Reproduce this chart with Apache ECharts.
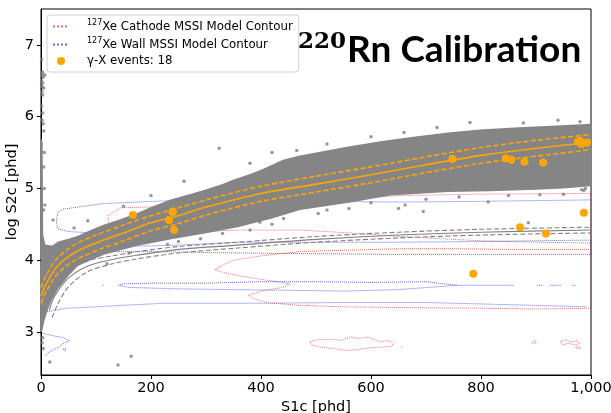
<!DOCTYPE html>
<html><head><meta charset="utf-8">
<script src="https://cdn.jsdelivr.net/npm/echarts@6/dist/echarts.min.js"></script>
<style>html,body{margin:0;padding:0;background:#fff}#c{width:611px;height:413px}</style>
</head><body><div id="c"></div><script>
// ---- data ----
var xTicks = [0, 200, 400, 600, 800, 1000];
var yTicks = [3, 4, 5, 6, 7];

// gamma-X events (S1c, log S2c)
var events = [[167,4.63],[239,4.67],[233,4.56],[242,4.42],[748,5.41],[845,5.42],[855,5.40],[879,5.37],[913,5.36],
  [976,5.65],[983,5.62],[993,5.64],[980,5.66],[987,4.66],[871,4.46],[918,4.37],[786,3.81],[240,4.68]];

// orange fitted band (mean, +/-)
var bandMean = [[0,3.50],[10,3.68],[30,3.92],[60,4.10],[100,4.24],[150,4.38],[200,4.52],[250,4.62],[300,4.74],[400,4.93],[500,5.06],[600,5.19],[700,5.33],[800,5.46],[900,5.56],[1000,5.64]];
var bandUp   = [[0,3.62],[10,3.80],[30,4.03],[60,4.21],[100,4.35],[150,4.49],[200,4.62],[250,4.73],[300,4.84],[400,5.03],[500,5.17],[600,5.30],[700,5.44],[800,5.57],[900,5.67],[1000,5.75]];
var bandLow  = [[0,3.40],[10,3.57],[30,3.81],[60,3.99],[100,4.13],[150,4.27],[200,4.41],[250,4.51],[300,4.63],[400,4.82],[500,4.95],[600,5.08],[700,5.22],[800,5.35],[900,5.45],[1000,5.54]];

// gray lower model band
var grayMid = [[15,3.30],[25,3.50],[50,3.75],[85,3.92],[130,4.01],[176,4.07],[250,4.15],[358,4.21],[500,4.29],[650,4.35],[800,4.39],[1000,4.42]];
var grayUp  = [[15,3.45],[25,3.62],[50,3.85],[85,3.99],[130,4.06],[176,4.12],[250,4.19],[358,4.25],[500,4.33],[650,4.39],[800,4.43],[1000,4.46]];
var grayLow = [[20,3.20],[30,3.38],[50,3.63],[85,3.84],[130,3.95],[176,4.02],[250,4.10],[358,4.17],[500,4.25],[650,4.31],[800,4.35],[1000,4.38]];

// dense Rn-220 event cloud outline
var cloudUpper = [[0,5.7],[3,5.65],[4,4.35],[8,4.22],[20,4.2],[31,4.26],[50,4.3],[67,4.34],[90,4.42],[116,4.5],[140,4.56],[176,4.66],[200,4.74],[237,4.85],[270,4.92],[298,4.98],[330,5.06],[349,5.12],[380,5.2],[400,5.26],[440,5.4],[470,5.46],[500,5.5],[556,5.58],[620,5.66],[677,5.72],[740,5.78],[798,5.82],[860,5.85],[919,5.87],[1000,5.9]];
var cloudLower = [[1000,5.03],[950,5.0],[900,4.98],[816,4.96],[740,4.95],[635,4.9],[560,4.8],[471,4.7],[420,4.58],[358,4.46],[298,4.37],[237,4.29],[176,4.2],[116,4.08],[90,4.0],[67,3.92],[50,3.78],[31,3.6],[20,3.45],[12,3.3],[6,3.15],[2,3.0],[0,3.0]];
// scattered Rn-220 events
var cloudPoints = [[1,6.8],[3,6.62],[2,6.58],[4,6.55],[1,6.5],[3,6.47],[2,6.42],[5,6.4],[2,6.35],[3,6.3],[1,6.15],[3,6.05],[2,5.95],[4,5.9],[7,6.58],[5,5.8],[6,5.5],[5,5.3],[6,5.0],[5,4.7],
  [3,2.92],[2,2.85],[4,2.77],[16,2.58],[140,2.54],[164,2.66],[324,5.56],[22,4.56],[7,4.77],[695,4.68],[886,4.52],[983,4.98],[987,4.97],
  [398,4.53],[504,4.65],[298,4.42],[347,4.49],[441,4.58],[650,4.72],[662,4.77],[813,4.81],[907,4.91],[60,4.45],[85,4.55],[150,4.75],
  [200,4.9],[260,5.1],[380,5.35],[420,5.5],[465,5.53],[520,5.62],[600,5.72],[660,5.78],[720,5.85],[780,5.92],[877,5.91],[940,5.95],[980,5.93],
  [120,3.95],[160,4.1],[230,4.22],[250,4.26],[290,4.3],[330,4.37],[380,4.42],[420,4.5],[520,4.7],[560,4.72],[600,4.8],[700,4.85],[760,4.88],[850,4.9],[950,4.92],[990,5.0]];

// Xe-127 cathode MSSI contours
var cathode1 = [[122,4.62],[145,4.73],[189,4.74],[300,4.75],[422,4.78],[540,4.85],[653,4.9],[800,4.92],[1000,4.93],[1000,4.24],[900,4.25],[800,4.27],[700,4.31],[653,4.33],[560,4.38],[471,4.42],[400,4.42],[358,4.42],[298,4.4],[240,4.37],[176,4.35],[140,4.42],[128,4.47],[122,4.55],[122,4.62]];
var cathode2 = [[316,3.87],[330,3.93],[350,4.0],[400,4.06],[471,4.12],[560,4.14],[653,4.16],[750,4.16],[850,4.15],[1000,4.15],[1000,3.33],[900,3.32],[800,3.33],[653,3.34],[550,3.35],[470,3.37],[410,3.41],[385,3.47],[377,3.51],[400,3.57],[440,3.62],[453,3.67],[420,3.71],[362,3.78],[330,3.83],[316,3.87]];
var cathode3 = [[2,3.93],[12,4.02],[30,4.05],[45,4.0],[52,3.9],[45,3.78],[30,3.7],[15,3.68],[5,3.75]];
var cathode4 = [[489,2.86],[500,2.89],[525,2.9],[545,2.88],[562,2.93],[580,2.91],[595,2.93],[605,2.9],[615,2.86],[630,2.88],[641,2.85],[638,2.8],[620,2.79],[600,2.78],[580,2.76],[556,2.74],[530,2.77],[505,2.79],[492,2.82],[489,2.86]];
var cathode5 = [[893,2.86],[898,2.88],[901,2.85],[895,2.83],[893,2.86]];
var cathode6 = [[945,2.87],[955,2.89],[965,2.86],[975,2.88],[980,2.84],[970,2.82],[960,2.84],[948,2.82],[945,2.87]];
var cathode7 = [[972,2.79],[978,2.8],[981,2.77],[974,2.77],[972,2.79]];
var cathode8 = [[655,2.79],[658,2.79]];

// Xe-127 wall MSSI contours
var wall1 = [[130,4.35],[90,4.38],[49,4.4],[30,4.44],[28,4.55],[31,4.67],[40,4.71],[67,4.74],[116,4.79],[176,4.81],[237,4.83],[358,4.83],[500,4.82],[650,4.81],[800,4.82],[1000,4.84]];
var wall2 = [[3,4.18],[10,4.2],[60,4.2],[150,4.19],[249,4.21],[358,4.25],[500,4.25],[650,4.25],[800,4.26],[1000,4.28],[1000,4.08],[800,4.08],[650,4.08],[500,4.09],[358,4.1],[200,4.12],[100,4.12],[30,4.13],[3,4.15],[3,4.18]];
var wall3 = [[756,3.65],[700,3.7],[600,3.69],[500,3.7],[400,3.7],[300,3.68],[200,3.68],[150,3.67],[141,3.65],[160,3.62],[250,3.6],[350,3.59],[450,3.58],[550,3.57],[650,3.59],[756,3.65],[860,3.65]];
var wall4 = [[4,3.26],[10,3.28],[46,3.33],[100,3.35],[146,3.37],[225,3.4],[400,3.4],[550,3.41],[700,3.41],[850,3.38],[992,3.35]];
var wall5 = [[3,2.98],[20,2.95],[40,2.92],[52,2.88],[40,2.84],[30,2.78],[15,2.72],[7,2.67]];
var wall6 = [[40,2.76],[45,2.77],[44,2.74],[40,2.76]];
var wallFrag = [[[902,3.65],[912,3.65]],[[925,3.65],[945,3.65]],[[965,3.65],[973,3.65]],[[112,3.65],[115,3.65]]];

// ---- chart ----
var CATH = 'cathode', WALL = 'wall', EVT = 'events';
var labels = {};
labels[CATH] = '{s|127}Xe Cathode MSSI Model Contour';
labels[WALL] = '{s|127}Xe Wall MSSI Model Contour';
labels[EVT] = '\u03b3-X events: 18';

function contour(name, data, color) {
  return {name: name, type: 'line', data: data, symbol: 'none', showSymbol: false, silent: true, z: 1,
    lineStyle: {color: color, width: 1, type: 'dotted', opacity: 0.7}, itemStyle: {color: color}};
}
function curve(data, color, width, dash, z) {
  return {type: 'line', data: data, symbol: 'none', showSymbol: false, silent: true, z: z, smooth: 0.3,
    lineStyle: {color: color, width: width, type: dash ? [5, 2.5] : 'solid'}};
}
var RED = '#e8303a', BLUE = '#2a2ae0';
var series = [];
[cathode1, cathode2, cathode3, cathode4, cathode5, cathode6, cathode7, cathode8].forEach(function (d) { series.push(contour(CATH, d, RED)); });
[wall1, wall2, wall3, wall4, wall5, wall6].concat(wallFrag).forEach(function (d) { series.push(contour(WALL, d, BLUE)); });
series.push({type: 'custom', silent: true, z: 2, data: [[500, 5]],
  renderItem: function (params, api) {
    var pts = cloudUpper.concat(cloudLower).map(function (p) { return api.coord(p); });
    return {type: 'polygon', shape: {points: pts}, style: {fill: '#858585'}};
  }});
series.push({type: 'scatter', data: cloudPoints, symbolSize: 3.5, silent: true, z: 3, itemStyle: {color: '#808080'}});
series.push(curve(grayUp, '#808080', 1.1, true, 4));
series.push(curve(grayMid, '#808080', 1.1, false, 4));
series.push(curve(grayLow, '#808080', 1.1, true, 4));
series.push(curve(bandUp, '#FFA500', 1.6, true, 5));
series.push(curve(bandMean, '#FFA500', 1.6, false, 5));
series.push(curve(bandLow, '#FFA500', 1.6, true, 5));
series.push({name: EVT, type: 'scatter', data: events, symbolSize: 8, z: 6, itemStyle: {color: '#FFA500', opacity: 1}});

var chart = echarts.init(document.getElementById('c'), null, {renderer: 'canvas'});
chart.setOption({
  animation: false,
  backgroundColor: '#fff',
  grid: {left: 41, right: 20, top: 9, bottom: 38, containLabel: false, outerBoundsMode: 'none',
    show: true, borderColor: '#000', borderWidth: 1, backgroundColor: 'transparent'},
  xAxis: {type: 'value', min: 0, max: 1000, interval: 200,
    name: 'S1c [phd]', nameLocation: 'middle', nameGap: 25, nameMoveOverlap: false,
    nameTextStyle: {fontFamily: 'DejaVu Sans', fontSize: 14.5, color: '#000'},
    axisLine: {lineStyle: {color: '#000', width: 1}}, splitLine: {show: false},
    axisTick: {inside: false, length: 4, lineStyle: {color: '#000'}},
    axisLabel: {fontFamily: 'DejaVu Sans', fontSize: 14.5, color: '#000', margin: 6}},
  yAxis: {type: 'value', min: 2.4, max: 7.5,
    name: 'log S2c [phd]', nameLocation: 'middle', nameGap: 21, nameMoveOverlap: false,
    nameTextStyle: {fontFamily: 'DejaVu Sans', fontSize: 14.5, color: '#000'},
    axisLine: {lineStyle: {color: '#000', width: 1}}, splitLine: {show: false},
    axisTick: {inside: false, length: 4, lineStyle: {color: '#000'}, customValues: yTicks},
    axisLabel: {fontFamily: 'DejaVu Sans', fontSize: 14.5, color: '#000', margin: 7, customValues: yTicks}},
  legend: {left: 47, top: 15, orient: 'vertical',
    data: [{name: CATH, itemStyle: {opacity: 0}}, {name: WALL, itemStyle: {opacity: 0}}, {name: EVT}],
    itemWidth: 16, itemHeight: 8, itemGap: 4.5, padding: [4, 6, 5, 5],
    backgroundColor: '#fff', borderColor: '#d0d0d0', borderWidth: 1, borderRadius: 3,
    formatter: function (n) { return labels[n]; },
    textStyle: {fontFamily: 'DejaVu Sans', fontSize: 11.8, color: '#000', padding: [0, 0, 0, 13],
      rich: {s: {fontFamily: 'DejaVu Sans', fontSize: 8, verticalAlign: 'top', padding: [0, 0, 7, 0]}}}},
  graphic: [
    {type: 'text', left: 298, top: 31, z: 10, style: {text: '220', font: 'bold 23px "DejaVu Serif"', fill: '#000'}},
    {type: 'text', left: 347, top: 32, z: 10, style: {text: 'Rn Calibration', font: 'bold 37px Lato', fill: '#000'}}
  ],
  series: series
});
</script></body></html>
